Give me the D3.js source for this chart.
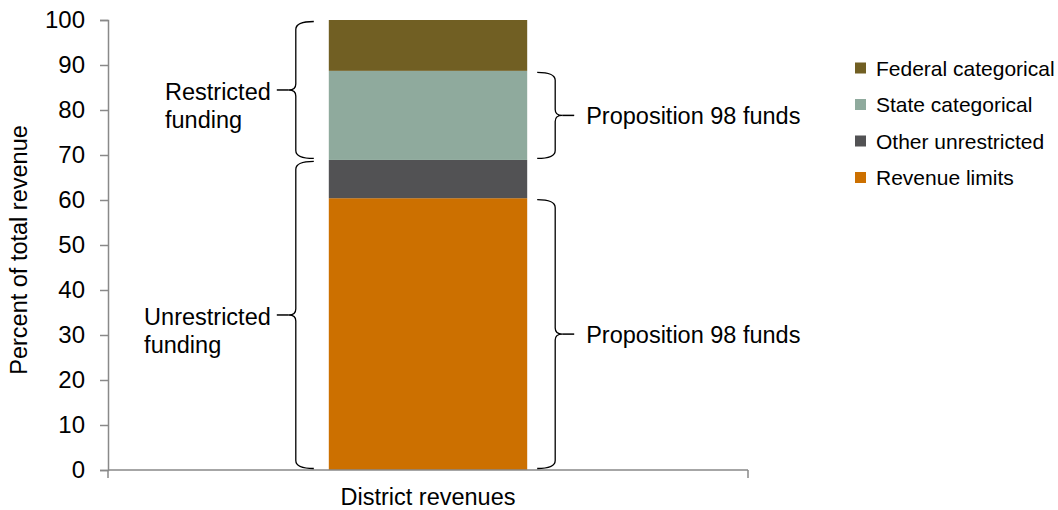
<!DOCTYPE html>
<html>
<head>
<meta charset="utf-8">
<script src="https://cdn.jsdelivr.net/npm/d3@7"></script>
<style>
  body { margin: 0; background: #fff; }
  svg text { font-family: "Liberation Sans", Arial, sans-serif; fill: #000; }
</style>
</head>
<body>
<div id="chart"></div>
<script>
// data
var categories = ["District revenues"];
var seriesNames = ["Revenue limits", "Other unrestricted", "State categorical", "Federal categorical"];
var seriesValues = [60.4, 8.5, 19.8, 11.3];
var seriesColors = ["#cc7000", "#525254", "#8faa9d", "#715f23"];
var yTicks = [0, 10, 20, 30, 40, 50, 60, 70, 80, 90, 100];

// brace groups: which series each bracket covers
var leftBraces = [
  {lines: ["Restricted", "funding"], series: [2, 3]},
  {lines: ["Unrestricted", "funding"], series: [0, 1]}
];
var rightBraces = [
  {lines: ["Proposition 98 funds"], series: [2]},
  {lines: ["Proposition 98 funds"], series: [0]}
];

var W = 1058, H = 510;
var margin = {top: 20, right: 310, bottom: 40, left: 108},
    width = W - margin.left - margin.right,
    height = H - margin.top - margin.bottom;

var svg = d3.select("#chart").append("svg")
    .attr("width", W)
    .attr("height", H);
var g = svg.append("g")
    .attr("transform", "translate(" + margin.left + "," + margin.top + ")");

var x = d3.scaleBand()
    .domain(categories)
    .range([0, width])
    .paddingInner(0.69)
    .paddingOuter(0.345);

var y = d3.scaleLinear()
    .domain([0, 100])
    .range([height, 0]);

// stacked extents
var stackTop = [], stackBottom = [];
var acc = 0;
seriesValues.forEach(function (v, i) {
  stackBottom[i] = acc;
  acc += v;
  stackTop[i] = acc;
});

// bars
categories.forEach(function (c) {
  g.selectAll(".seg")
    .data(seriesValues)
    .enter().append("rect")
    .attr("x", x(c))
    .attr("width", x.bandwidth())
    .attr("y", function (d, i) { return y(stackTop[i]); })
    .attr("height", function (d, i) { return y(stackBottom[i]) - y(stackTop[i]); })
    .attr("fill", function (d, i) { return seriesColors[i]; });
});

// y axis
var yAxis = g.append("g")
    .call(d3.axisLeft(y).tickValues(yTicks).tickSize(8).tickPadding(15));
yAxis.select(".domain").attr("stroke", "#898989").attr("stroke-width", 1.5);
yAxis.selectAll(".tick line").attr("stroke", "#898989").attr("stroke-width", 1.5);
yAxis.selectAll(".tick text")
    .style("font-size", "24px")
    .attr("fill", "#000");

// x axis: line with end ticks only
var xAxis = g.append("g")
    .attr("transform", "translate(0," + height + ")");
xAxis.append("line")
    .attr("x1", 0).attr("x2", width)
    .attr("stroke", "#898989").attr("stroke-width", 1.5);
[0, width].forEach(function (px) {
  xAxis.append("line")
    .attr("x1", px).attr("x2", px).attr("y1", 0).attr("y2", 8)
    .attr("stroke", "#898989").attr("stroke-width", 1.5);
});
xAxis.selectAll(".cat")
    .data(categories)
    .enter().append("text")
    .attr("x", function (d) { return x(d) + x.bandwidth() / 2; })
    .attr("y", 35)
    .attr("text-anchor", "middle")
    .style("font-size", "23.5px")
    .text(function (d) { return d; });

// y title
svg.append("text")
    .attr("transform", "translate(27," + (margin.top + height / 2 + 5) + ") rotate(-90)")
    .attr("text-anchor", "middle")
    .style("font-size", "23.5px")
    .text("Percent of total revenue");

// curly brace path between y0 and y1, tip at xTip
function bracePath(xEnd, xSpine, xTip, y0, y1) {
  var m = (y0 + y1) / 2;
  var r = 8;
  return "M" + xEnd + "," + y0 +
    " Q" + xSpine + "," + y0 + " " + xSpine + "," + (y0 + r) +
    " L" + xSpine + "," + (m - 6) +
    " Q" + xSpine + "," + m + " " + xTip + "," + m +
    " Q" + xSpine + "," + m + " " + xSpine + "," + (m + 6) +
    " L" + xSpine + "," + (y1 - r) +
    " Q" + xSpine + "," + y1 + " " + xEnd + "," + y1;
}

function drawBrace(b, side) {
  var lo = d3.min(b.series, function (i) { return stackBottom[i]; });
  var hi = d3.max(b.series, function (i) { return stackTop[i]; });
  var y0 = y(hi) + 1.5, y1 = y(lo) - 1.5;
  var bx = x(categories[0]);
  var m = (y0 + y1) / 2;
  var xEnd, xSpine, xTip, xLead;
  if (side < 0) {
    xEnd = bx - 15; xSpine = bx - 33; xTip = bx - 40; xLead = bx - 52;
  } else {
    xEnd = bx + x.bandwidth() + 10; xSpine = xEnd + 18; xTip = xSpine + 7; xLead = xSpine + 19;
  }
  g.append("path")
    .attr("d", bracePath(xEnd, xSpine, xTip, y0, y1))
    .attr("fill", "none")
    .attr("stroke", "#000")
    .attr("stroke-width", 1.3);
  g.append("line")
    .attr("x1", xTip).attr("x2", xLead)
    .attr("y1", m).attr("y2", m)
    .attr("stroke", "#000")
    .attr("stroke-width", 1.5);

  if (side < 0) {
    // lines left-aligned, first line ends just before the leader
    var tmp = g.append("text").style("font-size", "23.5px").text(b.lines[0]);
    var firstW = tmp.node().getComputedTextLength();
    tmp.remove();
    var left = xLead - 6 - firstW;
    b.lines.forEach(function (ln, k) {
      g.append("text")
        .attr("x", left)
        .attr("y", m + 10 + k * 28)
        .style("font-size", "23.5px")
        .text(ln);
    });
  } else {
    g.append("text")
      .attr("x", xLead + 12)
      .attr("y", m + 8.5)
      .style("font-size", "23.5px")
      .text(b.lines[0]);
  }
}

leftBraces.forEach(function (b) { drawBrace(b, -1); });
rightBraces.forEach(function (b) { drawBrace(b, 1); });

// legend (top series first)
var legend = svg.append("g")
    .attr("transform", "translate(855,68)");
var order = d3.range(seriesNames.length).reverse();
var items = legend.selectAll(".item")
    .data(order)
    .enter().append("g")
    .attr("transform", function (d, k) { return "translate(0," + (k * 36.5) + ")"; });
items.append("rect")
    .attr("x", 0).attr("y", -5.5)
    .attr("width", 11).attr("height", 11)
    .attr("fill", function (i) { return seriesColors[i]; });
items.append("text")
    .attr("x", 21).attr("y", 7.5)
    .style("font-size", "21px")
    .text(function (i) { return seriesNames[i]; });
</script>
</body>
</html>
